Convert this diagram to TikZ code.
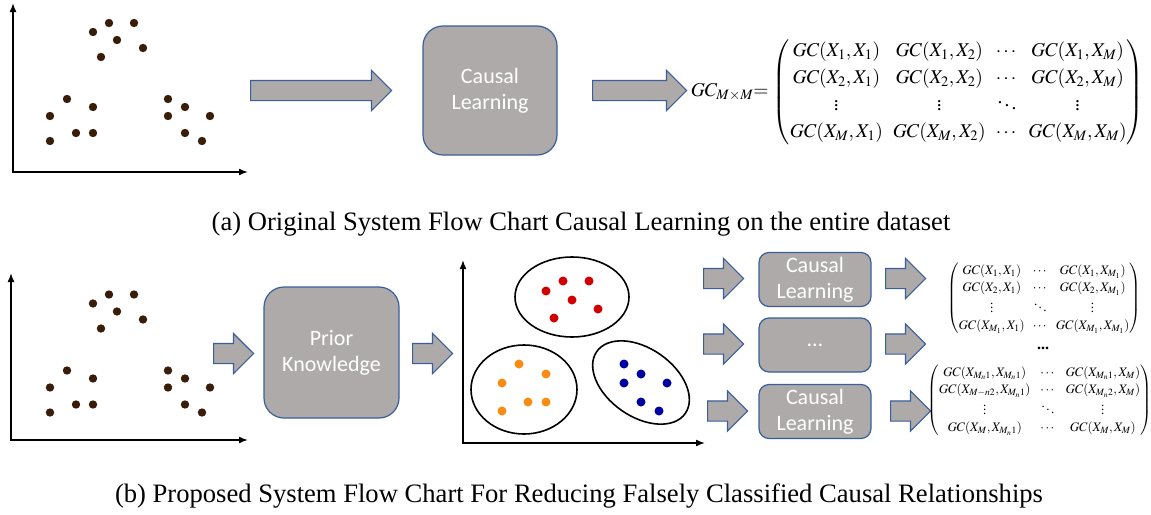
\documentclass[tikz,border=0pt]{standalone}
\usepackage{amsmath}
\usepackage{mathptmx}
\usepackage{fontspec}
\setmainfont{Liberation Serif}
\newfontfamily\boxfont{Carlito}
\usetikzlibrary{shapes.arrows,arrows.meta}

\definecolor{boxgray}{RGB}{174,170,170}
\definecolor{boxblue}{RGB}{56,94,156}
\definecolor{dotbrown}{RGB}{56,30,10}
\definecolor{dotred}{RGB}{208,0,0}
\definecolor{dotorange}{RGB}{250,140,20}
\definecolor{dotblue}{RGB}{0,0,160}

\tikzstyle{box}=[rectangle, rounded corners=20pt, draw=boxblue, fill=boxgray,
                 line width=1.2pt, text=white, align=center, inner sep=1pt,
                 font=\boxfont\fontsize{22}{26}\selectfont]
\tikzstyle{smallbox}=[box, rounded corners=10pt, minimum width=112pt, minimum height=54pt]
\tikzstyle{barrow}=[single arrow, draw=boxblue, fill=boxgray, line width=1.2pt,
                    inner xsep=0pt, inner ysep=9.5pt, single arrow head extend=10pt,
                    anchor=tail]
\tikzstyle{axis}=[line width=1.6pt, {Latex[length=9pt,width=7pt]}-{Latex[length=9pt,width=7pt]}]
\tikzstyle{caption}=[font=\fontsize{26.6}{30}\selectfont, anchor=base, inner sep=0pt]
\tikzstyle{bigmat}=[font=\fontsize{19.5}{27}\selectfont, inner sep=0pt]
\tikzstyle{smallmat}=[font=\fontsize{13}{17.5}\selectfont, inner sep=0pt]

\def\blackdots{93/32,109/23,134/23,117/40,143/48,101/57,
  67/99,93/107,50/116,76/133,93/133,50/141,
  168/99,185/107,168/116,210/116,185/133,202/141}

\begin{document}
\begin{tikzpicture}[x=1pt,y=-1pt]
  \useasboundingbox (0,0) rectangle (1151,514);

  % (a)
  \draw[axis] (13,3) |- (248,172);
  \foreach \x/\y in \blackdots \fill[dotbrown] (\x,\y) circle (4.2pt);

  \node[barrow, minimum height=141pt] (a1) at (250,90.5) {};
  \node[box, minimum width=134pt, minimum height=129pt] (cla) at (490,90.5) {Causal\\Learning};
  \node[barrow, minimum height=94pt] (a2) at (592,90.5) {};

  \node[bigmat, anchor=east] (eqa) at (1144,92) {\setlength{\arraycolsep}{5pt}$GC_{M\times M}{=}\,\begin{pmatrix}
    GC(X_1,X_1) & GC(X_1,X_2) & \cdots & GC(X_1,X_M)\\
    GC(X_2,X_1) & GC(X_2,X_2) & \cdots & GC(X_2,X_M)\\
    \vdots & \vdots & \ddots & \vdots\\
    GC(X_M,X_1) & GC(X_M,X_2) & \cdots & GC(X_M,X_M)
  \end{pmatrix}$};

  \node[caption] (capa) at (581,230) {(a) Original System Flow Chart Causal Learning on the entire dataset};

  % (b)
  \draw[axis] (11,273) |- (248,440);
  \begin{scope}[shift={(0,271.5)}]
    \foreach \x/\y in \blackdots \fill[dotbrown] (\x,\y) circle (4.2pt);
  \end{scope}

  \node[barrow, minimum height=40pt] (b1) at (213,353.5) {};
  \node[box, minimum width=135pt, minimum height=131pt] (prior) at (331.5,352.5) {Prior\\Knowledge};
  \node[barrow, minimum height=40pt] (b2) at (412,353.5) {};

  \draw[axis] (463,260) |- (705,443);
  \draw[line width=1.6pt] (572,297) ellipse (57 and 40);
  \draw[line width=1.6pt] (524,389.5) ellipse (53 and 44.5);
  \draw[line width=1.6pt, rotate around={-35:(641,382.5)}] (641,382.5) ellipse (54 and 34);
  \foreach \x/\y in {546/291,563/281,589/281,572/300,598/309,554/318}
    \fill[dotred] (\x,\y) circle (4.5pt);
  \foreach \x/\y in {519/364,546/374,502/383,528/402,546/402,502/411}
    \fill[dotorange] (\x,\y) circle (4.5pt);
  \foreach \x/\y in {624/364,641/374,624/383,667/383,641/402,659/411}
    \fill[dotblue] (\x,\y) circle (4.5pt);

  \node[barrow, minimum height=40pt] (r1) at (703,278.5) {};
  \node[barrow, minimum height=40pt] (r2) at (703,344) {};
  \node[barrow, minimum height=40pt] (r3) at (707,411) {};
  \node[smallbox] (cl1) at (815,279.5) {Causal\\Learning};
  \node[smallbox] (cl2) at (815,345) {\dots};
  \node[smallbox] (cl3) at (815,411.5) {Causal\\Learning};
  \node[barrow, minimum height=40pt] (s1) at (885,278.5) {};
  \node[barrow, minimum height=40pt] (s2) at (885,344) {};
  \node[barrow, minimum height=40pt] (s3) at (890,411) {};

  \node[smallmat] (m1) at (1044,298.5) {\setlength{\arraycolsep}{4pt}$\begin{pmatrix}
    GC(X_1,X_1) & \cdots & GC(X_1,X_{M_1})\\
    GC(X_2,X_1) & \cdots & GC(X_2,X_{M_1})\\
    \vdots & \ddots & \vdots\\
    GC(X_{M_1},X_1) & \cdots & GC(X_{M_1},X_{M_1})
  \end{pmatrix}$};
  \node[font=\fontsize{16}{18}\selectfont\bfseries] (mdots) at (1043,348) {...};
  \node[smallmat] (m2) at (1039.5,400.5) {$\begin{pmatrix}
    GC(X_{M_n1},X_{M_n1}) & \cdots & GC(X_{M_n1},X_M)\\
    GC(X_{M-n2},X_{M_n1}) & \cdots & GC(X_{M_n2},X_M)\\
    \vdots & \ddots & \vdots\\
    GC(X_M,X_{M_n1}) & \cdots & GC(X_M,X_M)
  \end{pmatrix}$};

  \node[caption] (capb) at (579,502) {(b) Proposed System Flow Chart For Reducing Falsely Classified Causal Relationships};
\end{tikzpicture}
\end{document}
